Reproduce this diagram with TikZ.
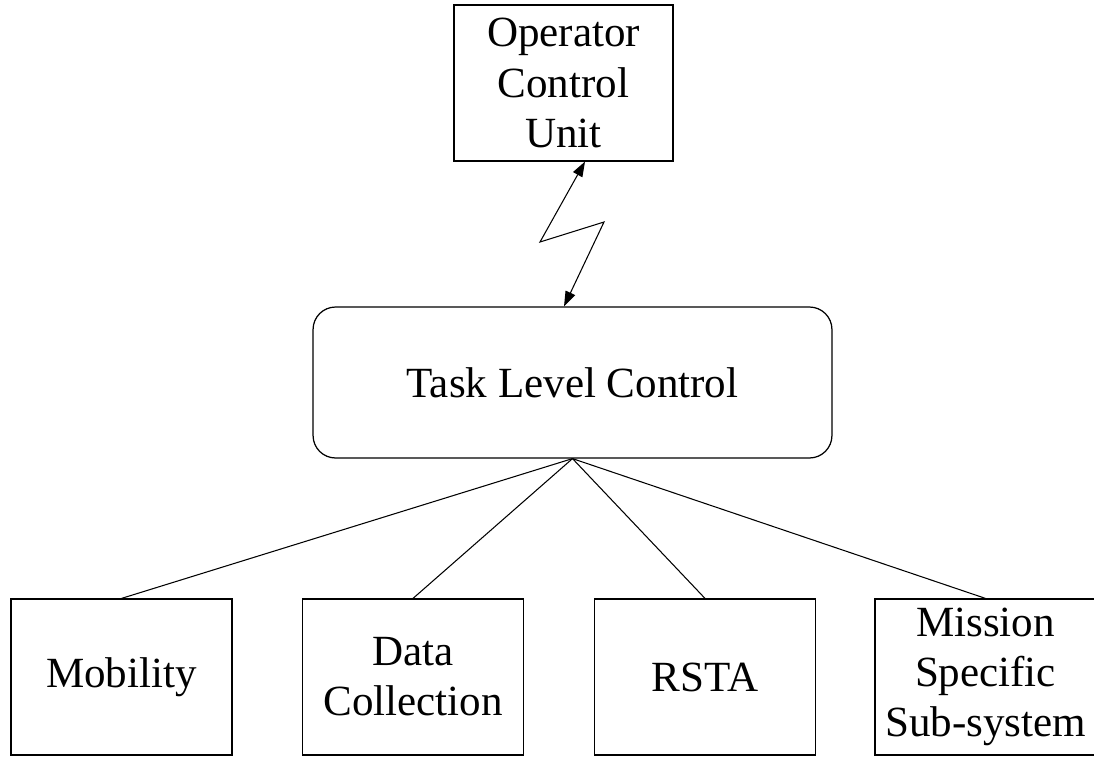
\documentclass[tikz,border=0pt]{standalone}
\usepackage{fontspec}
\setmainfont{Liberation Serif}
\usetikzlibrary{arrows.meta}

\begin{document}
\begin{tikzpicture}[x=0.02cm,y=-0.02cm,>={Triangle[length=3mm,width=2.1mm]},
    box/.style={draw,line width=0.7pt,minimum width=4.42cm,minimum height=3.12cm,
      align=center,inner sep=0pt,font=\fontsize{24.5}{28.5}\selectfont},
    link/.style={line width=0.6pt}]
  \useasboundingbox (0,0) rectangle (1094,757);
  \node[box,minimum width=4.38cm] (ocu) at (563.5,83) {Operator\\Control\\Unit};
  \node[box,rounded corners=0.45cm,minimum width=10.38cm,minimum height=3.02cm] (tlc) at (572.5,382.5) {Task Level Control};
  \node[box] (mob) at (121.5,677) {Mobility};
  \node[box] (data) at (413,677) {Data\\Collection};
  \node[box] (rsta) at (705,677) {RSTA};
  \node[box] (msss) at (985.5,677) {Mission\\Specific\\Sub-system};
  % radio link
  \coordinate (zigA) at (540,242);
  \coordinate (zigB) at (604,222);
  \draw[link,<->] ([xshift=0.43cm]ocu.south) -- (zigA) -- (zigB) -- ([xshift=-0.17cm]tlc.north);
  \draw[link] (tlc.south) -- (mob.north);
  \draw[link] (tlc.south) -- (data.north);
  \draw[link] (tlc.south) -- (rsta.north);
  \draw[link] (tlc.south) -- (msss.north);
\end{tikzpicture}
\end{document}
